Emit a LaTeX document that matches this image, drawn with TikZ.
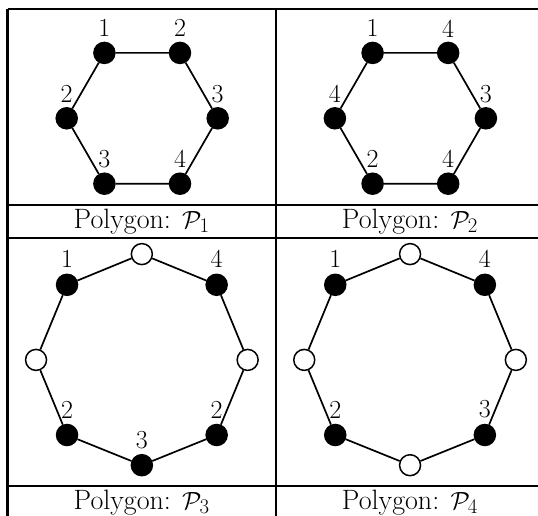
\documentclass[tikz,border=0pt]{standalone}
\usetikzlibrary{calc}
\begin{document}
\begin{tikzpicture}[x=1pt,y=-1pt,
  rule/.style={line width=2.2pt},
  edge/.style={line width=1.7pt},
  blk/.style={circle,fill=black,draw=black,line width=1.5pt,minimum size=21pt,inner sep=0pt},
  wht/.style={circle,fill=white,draw=black,line width=1.5pt,minimum size=21pt,inner sep=0pt},
  lbl/.style={font=\fontsize{26}{31}\selectfont,inner sep=0pt},
  captxt/.style={font=\fontsize{28}{33}\selectfont,inner sep=0pt,anchor=base}]
\useasboundingbox (0,0) rectangle (538,516);
% table rules
\coordinate (tl) at (7.5,8.7);
\coordinate (tr) at (538,8.7);
\coordinate (r1l) at (7.5,204.7);
\coordinate (r1r) at (538,204.7);
\coordinate (r2l) at (7.5,238.2);
\coordinate (r2r) at (538,238.2);
\coordinate (r3l) at (7.5,486);
\coordinate (r3r) at (538,486);
\coordinate (bl) at (7.5,516);
\coordinate (mt) at (275.7,8.7);
\coordinate (mb) at (275.7,516);
\draw[rule] (tl) -- (tr);
\draw[rule] (r1l) -- (r1r);
\draw[rule] (r2l) -- (r2r);
\draw[rule] (r3l) -- (r3r);
\draw[rule] (tl) -- (bl);
\draw[rule] (mt) -- (mb);
% ---------- hexagon 1 ----------
\node[blk] (a1) at (104.4,52.9) {};
\node[blk] (a2) at (180,52.9) {};
\node[blk] (a3) at (217.7,118.3) {};
\node[blk] (a4) at (180,183.7) {};
\node[blk] (a5) at (104.4,183.7) {};
\node[blk] (a6) at (66.7,118.3) {};
\draw[edge] (a1) -- (a2) -- (a3) -- (a4) -- (a5) -- (a6) -- (a1);
\node[lbl] (la1) at ([yshift=24.5pt]a1.center) {1};
\node[lbl] (la2) at ([yshift=24.5pt]a2.center) {2};
\node[lbl] (la3) at ([yshift=24.5pt]a3.center) {3};
\node[lbl] (la4) at ([yshift=24.5pt]a4.center) {4};
\node[lbl] (la5) at ([yshift=24.5pt]a5.center) {3};
\node[lbl] (la6) at ([yshift=24.5pt]a6.center) {2};
% ---------- hexagon 2 ----------
\node[blk] (b1) at (372.6,52.9) {};
\node[blk] (b2) at (448.2,52.9) {};
\node[blk] (b3) at (485.9,118.3) {};
\node[blk] (b4) at (448.2,183.7) {};
\node[blk] (b5) at (372.6,183.7) {};
\node[blk] (b6) at (334.9,118.3) {};
\draw[edge] (b1) -- (b2) -- (b3) -- (b4) -- (b5) -- (b6) -- (b1);
\node[lbl] (lb1) at ([yshift=24.5pt]b1.center) {1};
\node[lbl] (lb2) at ([yshift=24.5pt]b2.center) {4};
\node[lbl] (lb3) at ([yshift=24.5pt]b3.center) {3};
\node[lbl] (lb4) at ([yshift=24.5pt]b4.center) {4};
\node[lbl] (lb5) at ([yshift=24.5pt]b5.center) {2};
\node[lbl] (lb6) at ([yshift=24.5pt]b6.center) {4};
% ---------- octagon 3 ----------
\node[wht] (c1) at (141.85,254.1) {};
\node[blk] (c2) at (216.65,284.8) {};
\node[wht] (c3) at (247.65,359.9) {};
\node[blk] (c4) at (216.65,435) {};
\node[blk] (c5) at (141.85,465.2) {};
\node[blk] (c6) at (67.05,435) {};
\node[wht] (c7) at (36.05,359.9) {};
\node[blk] (c8) at (67.05,284.8) {};
\draw[edge] (c1) -- (c2) -- (c3) -- (c4) -- (c5) -- (c6) -- (c7) -- (c8) -- (c1);
\node[lbl] (lc2) at ([yshift=25.5pt]c2.center) {4};
\node[lbl] (lc4) at ([yshift=25.5pt]c4.center) {2};
\node[lbl] (lc5) at ([yshift=25.5pt]c5.center) {3};
\node[lbl] (lc6) at ([yshift=25.5pt]c6.center) {2};
\node[lbl] (lc8) at ([yshift=25.5pt]c8.center) {1};
% ---------- octagon 4 ----------
\node[wht] (d1) at (410.05,254.1) {};
\node[blk] (d2) at (484.85,284.8) {};
\node[wht] (d3) at (515.85,359.9) {};
\node[blk] (d4) at (484.85,435) {};
\node[wht] (d5) at (410.05,465.2) {};
\node[blk] (d6) at (335.25,435) {};
\node[wht] (d7) at (304.25,359.9) {};
\node[blk] (d8) at (335.25,284.8) {};
\draw[edge] (d1) -- (d2) -- (d3) -- (d4) -- (d5) -- (d6) -- (d7) -- (d8) -- (d1);
\node[lbl] (ld2) at ([yshift=25.5pt]d2.center) {4};
\node[lbl] (ld4) at ([yshift=25.5pt]d4.center) {3};
\node[lbl] (ld6) at ([yshift=25.5pt]d6.center) {2};
\node[lbl] (ld8) at ([yshift=25.5pt]d8.center) {1};
% ---------- captions ----------
\node[captxt] (p1) at (141.6,228) {Polygon: $\mathcal{P}_1$};
\node[captxt] (p2) at (409.9,228) {Polygon: $\mathcal{P}_2$};
\node[captxt] (p3) at (141.6,509) {Polygon: $\mathcal{P}_3$};
\node[captxt] (p4) at (409.9,509) {Polygon: $\mathcal{P}_4$};
\end{tikzpicture}
\end{document}
